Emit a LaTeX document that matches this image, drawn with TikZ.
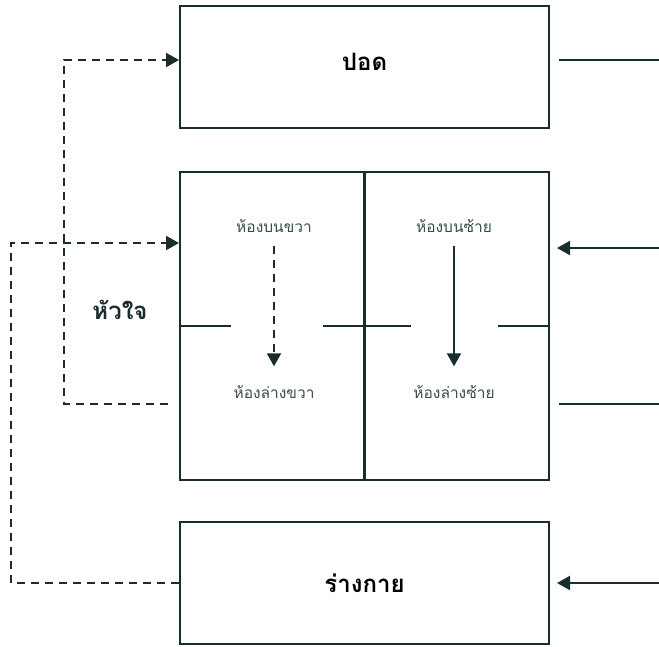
\documentclass[tikz,border=0pt]{standalone}
\usepackage{fontspec}
\newfontfamily\thaifont[Script=Thai]{Loma}
\usetikzlibrary{positioning}
\usetikzlibrary{arrows.meta,calc}
\definecolor{ink}{RGB}{25,45,45}
\tikzstyle{organ}=[draw=ink,line width=2.2pt,minimum width=369pt,inner sep=0pt,font=\thaifont\bfseries\fontsize{24}{30}\selectfont]
\tikzstyle{chamber}=[inner sep=1pt,text=ink!85,font=\thaifont\fontsize{15.5}{18}\selectfont]
\tikzstyle{wall}=[draw=ink,line width=2.2pt]
\tikzstyle{flow}=[draw=ink,line width=2.2pt,-{Triangle[length=13pt,width=14pt]}]
\tikzstyle{poorflow}=[flow,dash pattern=on 8pt off 6pt]

\begin{document}
\begin{tikzpicture}[x=1pt,y=-1pt]
    \useasboundingbox (0,0) rectangle (659,646);
    % First we draw the boxes
    \node[organ,minimum height=122pt] (lung) at (364.5,67) {\raisebox{11pt}{ปอด}};
    \node[organ,minimum height=308pt] (heart) at (364.5,326) {};
    \node[organ,minimum height=122pt] (body) at (364.5,583) {ร่างกาย};
    \node[font=\thaifont\bfseries\fontsize{24}{30}\selectfont,text=ink] (heartname) at (120,310) {หัวใจ};

    % Walls of the heart
    \draw[wall] (heart.north) -- (heart.south);
    \foreach \from/\to in {180/231, 323/411, 498/549}
        \draw[wall] (\from,326) -- (\to,326);

    % The four chambers
    \foreach \pos/\name/\label in {{(274,226)/ra/ห้องบนขวา}, {(274,392)/rv/ห้องล่างขวา}, {(454,226)/la/ห้องบนซ้าย}, {(454,392)/lv/ห้องล่างซ้าย}}
        \node[chamber] (\name) at \pos {\label};
    \draw[poorflow, shorten <=12pt, shorten >=18pt] (ra) -- (rv);
    \draw[flow, shorten <=12pt, shorten >=18pt] (la) -- (lv);

    % Connect the boxes
    \coordinate (rv out) at (168,404);
    \coordinate (lung in) at (179,60);
    \coordinate (heart in) at (179,243);
    \draw[poorflow] (rv out) -- (64,404) |- (lung in);
    \draw[poorflow] (body.west) -| (11,243) -- (heart in);

    % Lines at the right
    \foreach \y in {60, 404}
        \draw[wall] (559,\y) -- (660,\y);
    \foreach \y in {248, 583}
        \draw[flow] (660,\y) -- (557,\y);
\end{tikzpicture}
\end{document}
